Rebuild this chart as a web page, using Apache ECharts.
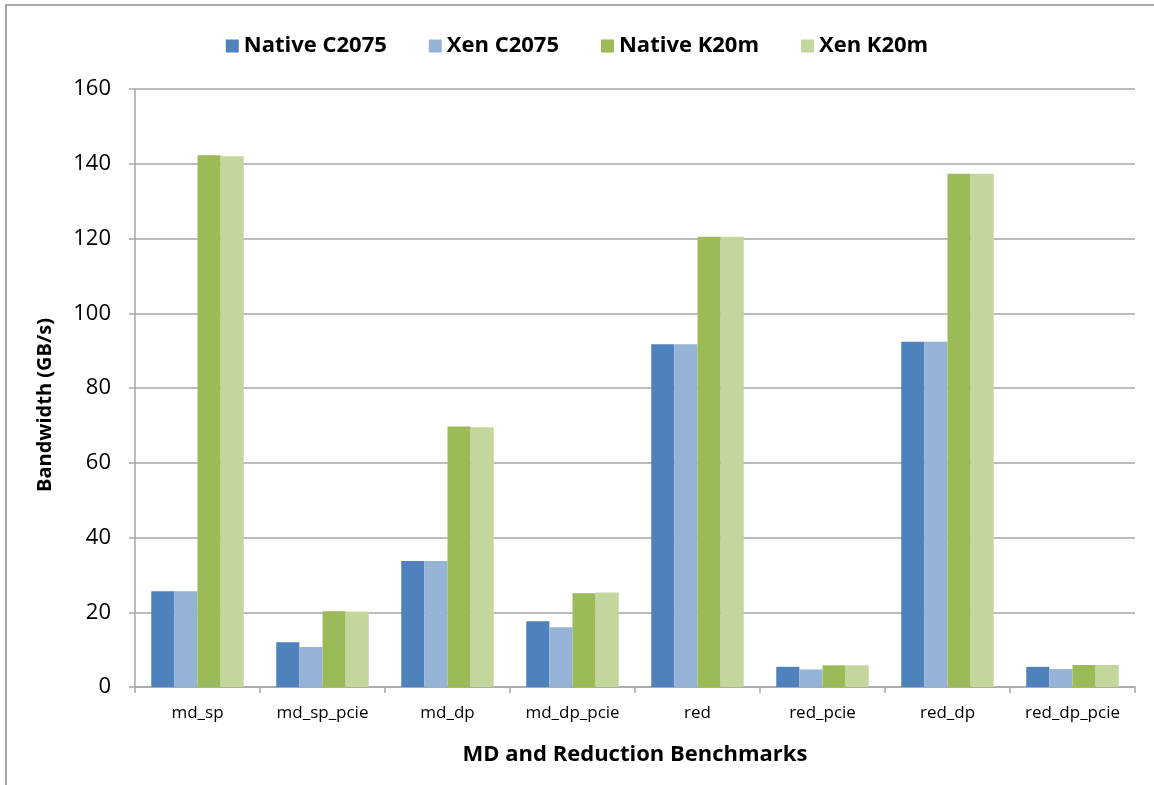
<!DOCTYPE html>
<html>
<head>
<meta charset="utf-8">
<script src="https://cdn.jsdelivr.net/npm/echarts@6/dist/echarts.min.js"></script>
<style>
html,body{margin:0;padding:0;background:#fff;}
#frame{position:absolute;left:5px;top:4px;width:1149px;height:781px;border-top:2px solid #a6a6a6;border-left:2px solid #a6a6a6;box-sizing:border-box;}
#chart{position:absolute;left:0;top:0;width:1154px;height:785px;}
</style>
</head>
<body>
<div id="frame"></div>
<div id="chart"></div>
<script>
const categories = ['md_sp','md_sp_pcie','md_dp','md_dp_pcie','red','red_pcie','red_dp','red_dp_pcie'];
const seriesNames = ['Native C2075','Xen C2075','Native K20m','Xen K20m'];
const nativeC2075 = [25.6, 12.0, 33.7, 17.6, 91.7, 5.4, 92.4, 5.4];
const xenC2075    = [25.6, 10.7, 33.7, 16.0, 91.7, 4.7, 92.4, 4.8];
const nativeK20m  = [142.3, 20.3, 69.7, 25.1, 120.5, 5.8, 137.3, 5.9];
const xenK20m     = [142.0, 20.2, 69.5, 25.3, 120.5, 5.8, 137.3, 5.9];
const colors = ['#4f81bd','#95b3d7','#9bbb59','#c3d69b'];
const allData = [nativeC2075, xenC2075, nativeK20m, xenK20m];

const FONT = '"Open Sans", "Liberation Sans", sans-serif';
const chart = echarts.init(document.getElementById('chart'), null, {renderer:'canvas'});
chart.setOption({
  animation:false,
  backgroundColor:'transparent',
  color: colors,
  legend:{
    top: 30, left: 'center',
    itemWidth: 13, itemHeight: 13, itemGap: 42,
    icon: 'rect',
    textStyle:{fontFamily:FONT, fontSize:22, fontWeight:'bold', color:'#000'},
    data: seriesNames
  },
  grid:{left:135, right:19, top:89, bottom:98, containLabel:false},
  xAxis:{
    type:'category',
    data:categories,
    name:'MD and Reduction Benchmarks',
    nameLocation:'middle',
    nameGap:57,
    nameTextStyle:{fontFamily:FONT, fontSize:22, fontWeight:'bold', color:'#000'},
    axisLine:{lineStyle:{color:'#a6a6a6', width:1.5}},
    axisTick:{show:true, length:6, lineStyle:{color:'#a6a6a6', width:1.5}},
    axisLabel:{fontFamily:FONT, fontSize:17, color:'#000', margin:18, interval:0}
  },
  yAxis:{
    type:'value',
    min:0, max:160, interval:20,
    name:'Bandwidth (GB/s)',
    nameLocation:'middle',
    nameRotate:90,
    nameGap:80,
    nameTextStyle:{fontFamily:FONT, fontSize:20, fontWeight:'bold', color:'#000', padding:[0,34,0,0]},
    axisLine:{show:true, lineStyle:{color:'#a6a6a6', width:1.5}},
    axisTick:{show:true, length:6, inside:false, lineStyle:{color:'#a6a6a6', width:1.5}},
    axisLabel:{fontFamily:FONT, fontSize:22, color:'#000', margin:24},
    splitLine:{show:true, lineStyle:{color:'#a6a6a6', width:1.5}}
  },
  series: seriesNames.map((n,i)=>({
    name:n,
    type:'bar',
    data: allData[i],
    barGap:'0%',
    barCategoryGap:'26%',
    itemStyle:{color:colors[i]}
  }))
});
</script>
</body>
</html>
